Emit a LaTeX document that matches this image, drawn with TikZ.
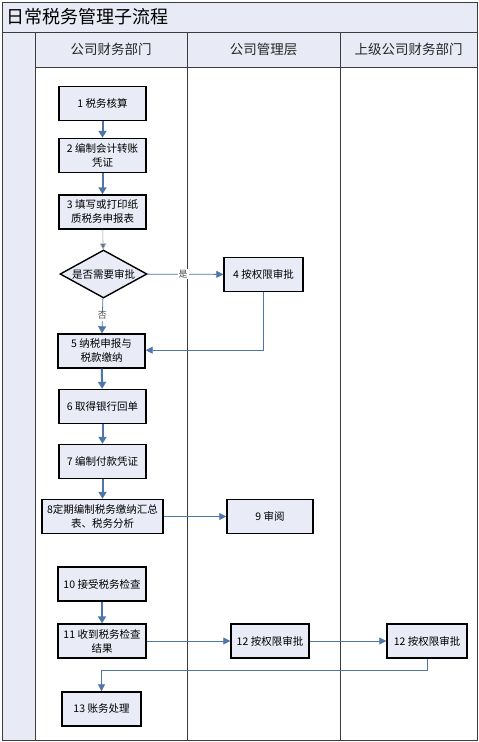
\documentclass[tikz,border=0pt]{standalone}
\usepackage{fontspec}
\setmainfont{Noto Sans CJK SC}
\usepackage{tikz}
\usetikzlibrary{shapes.geometric, arrows.meta, positioning, calc}
\definecolor{laneblue}{RGB}{232, 235, 245}
\definecolor{boxfill}{RGB}{233, 236, 247}
\definecolor{flowblue}{RGB}{79, 118, 168}
\definecolor{framegray}{RGB}{60, 60, 60}

\tikzset{
  procbox/.style={draw=black, line width=1.4pt, fill=boxfill, align=center,
    font=\fontsize{10.5}{14}\selectfont, minimum height=34pt, inner sep=1pt},
  decision/.style={diamond, draw=black, line width=1.4pt, fill=boxfill, aspect=1.8,
    minimum width=87pt, minimum height=48pt, inner sep=0pt,
    font=\fontsize{10.5}{14}\selectfont},
  vflow/.style={draw=flowblue, line width=2pt, -{Triangle[length=7pt, width=8pt]}},
  hflow/.style={draw=flowblue, line width=0.8pt, -{Triangle[length=7pt, width=7pt]}},
  lanehead/.style={font=\fontsize{13.5}{16}\selectfont, text=black!85},
  flowlabel/.style={fill=white, inner sep=1pt, font=\fontsize{9}{10}\selectfont, text=black!70}
}

\begin{document}
\begin{tikzpicture}[x=1pt, y=-1pt]
  \useasboundingbox (0,0) rectangle (479,742);
  % frame, title and lanes
  \fill[white] (0,0) rectangle (479,742);
  \fill[laneblue] (2,2) rectangle (477,32);
  \fill[laneblue] (2,32) rectangle (35,740);
  \fill[laneblue] (35,32) rectangle (477,67);
  \draw[framegray, line width=0.8pt] (2,2) rectangle (477,740);
  \draw[framegray, line width=1pt] (2,32) -- (477,32);
  \draw[framegray, line width=0.8pt] (35,67) -- (477,67);
  \foreach \lx in {35, 187, 340}
    \draw[framegray, line width=0.8pt] (\lx,32) -- (\lx,740);
  \node[anchor=west, font=\fontsize{18}{20}\selectfont] (title) at (3,17) {日常税务管理子流程};
  \node[lanehead] (lane1) at (111,49) {公司财务部门};
  \node[lanehead] (lane2) at (263.5,49) {公司管理层};
  \node[lanehead] (lane3) at (408.5,49) {上级公司财务部门};

  % steps
  \node[procbox, minimum width=87pt] (s1) at (102.5,103.5) {1 税务核算};
  \node[procbox, minimum width=87pt] (s2) at (102.5,155.5) {2 编制会计转账\\凭证};
  \node[procbox, minimum width=87pt] (s3) at (102.5,212) {3 填写或打印纸\\质税务申报表};
  \node[decision] (q1) at (103.5,274) {是否需要审批};
  \node[procbox, minimum width=79pt] (s4) at (263.5,274.5) {4 按权限审批};
  \node[procbox, minimum width=87pt] (s5) at (101.5,351) {5 纳税申报与\\税款缴纳};
  \node[procbox, minimum width=87pt] (s6) at (102.5,406.5) {6 取得银行回单};
  \node[procbox, minimum width=87pt] (s7) at (102.5,461.5) {7 编制付款凭证};
  \node[procbox, minimum width=121pt] (s8) at (102.5,516.5) {8定期编制税务缴纳汇总\\表、税务分析};
  \node[procbox, minimum width=86pt] (s9) at (270,516.5) {9 审阅};
  \node[procbox, minimum width=88pt] (s10) at (102,584) {10 接受税务检查};
  \node[procbox, minimum width=88pt] (s11) at (102,641) {11 收到税务检查\\结果};
  \node[procbox, minimum width=78pt] (s12a) at (270,641) {12 按权限审批};
  \node[procbox, minimum width=80pt] (s12b) at (427,641) {12 按权限审批};
  \node[procbox, minimum width=79pt] (s13) at (101.5,709) {13 账务处理};

  % connectors
  \draw[vflow] (s1) -- (s2);
  \draw[vflow] (s2) -- (s3);
  \draw[draw=black!35, line width=0.6pt, -{Triangle[length=6pt, width=6pt, fill=flowblue]}] (s3) -- (q1);
  \draw[hflow] (q1) -- node[flowlabel, pos=0.47] (yes) {是} (s4);
  \draw[vflow, line width=0.8pt] (q1) -- node[flowlabel, pos=0.5] (no) {否} (s5);
  \coordinate (back4) at ($(s4.south) + (0,58)$);
  \draw[hflow] (s4.south) -- (back4) -- (s5.east |- back4);
  \draw[vflow] (s5) -- (s6);
  \draw[vflow] (s6) -- (s7);
  \draw[vflow] (s7) -- (s8);
  \draw[hflow] (s8) -- (s9);
  \draw[vflow] (s10) -- (s11);
  \draw[hflow] (s11) -- (s12a);
  \draw[hflow] (s12a) -- (s12b);
  \coordinate (back12) at ($(s12b.south) + (0,12)$);
  \draw[hflow] (s12b.south) -- (back12) -- (s13.north |- back12) -- (s13.north);
\end{tikzpicture}
\end{document}
